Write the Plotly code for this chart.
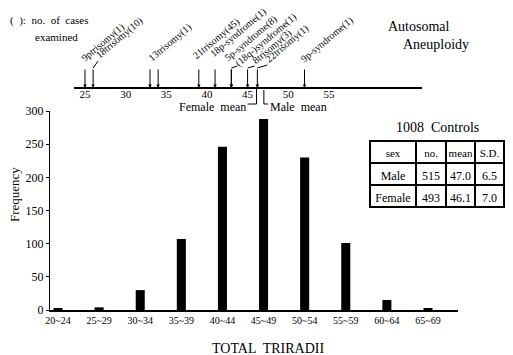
import plotly.graph_objects as go

# ---- data ----
categories = ["20~24", "25~29", "30~34", "35~39", "40~44", "45~49", "50~54", "55~59", "60~64", "65~69"]
frequency = [2, 4, 30, 107, 246, 288, 230, 101, 15, 2]

syndrome_labels = ["9ptrisomy(1)", "18trisomy(10)", "13trisomy(1)", "", "21trisomy(45)",
                   "18p-syndrome(1)", "5p-syndrome(8)", "(18q-)syndrome(1)", "8trisomy(3)",
                   "22trisomy(1)", "9p-syndrome(1)"]
syndrome_pos = [25, 26, 33, 34, 39, 41, 43, 43, 45, 46.2, 52]
top_ticks = [25, 30, 35, 40, 45, 50, 55]

table_sex = ["Male", "Female"]
table_no = [515, 493]
table_mean = [47.0, 46.1]
table_sd = [6.5, 7.0]

# page body has an 8px margin: reference pixel coords are shifted by it
OFF = 8
W, H = 513 - OFF, 355 - OFF
SERIF = "Liberation Serif, Times New Roman, serif"

def px(x):
    return (x - OFF) / W

def py(y):
    return (H - (y - OFF)) / H

fig = go.Figure()

fig.add_trace(go.Bar(x=categories, y=frequency, marker=dict(color="black", line=dict(width=0)),
                     width=0.22, xaxis="x", yaxis="y", showlegend=False))

fig.add_trace(go.Scatter(x=[top_ticks[0]], y=[0], mode="markers", marker=dict(opacity=0),
                         xaxis="x2", yaxis="y2", showlegend=False, hoverinfo="skip"))

fig.add_trace(go.Table(
    domain=dict(x=[px(370), px(504)], y=[py(209), py(141)]),
    columnwidth=[46, 30, 29, 29],
    header=dict(values=["sex", "no.", "mean", "S.D."], height=22,
                line=dict(color="black", width=1.2), fill=dict(color="white"),
                font=dict(family=SERIF, size=11, color="black"), align="center"),
    cells=dict(values=[table_sex, table_no, [f"{v:.1f}" for v in table_mean], [f"{v:.1f}" for v in table_sd]],
               height=22, line=dict(color="black", width=1.2), fill=dict(color="white"),
               font=dict(family=SERIF, size=12, color="black"), align="center"),
))

annotations = []
shapes = []

# pixel offsets of each label's start from its arrow top (styling only)
label_dx = [-2, 5, 0, 0, -4, -3, -5, 6, 7, 10, -2]
label_dy = [0, 3, 0, 0, 2, 4, 0, -5, -3, -1, -1]
ARROW_TOP = 20
for lab, pos, dx, dy in zip(syndrome_labels, syndrome_pos, label_dx, label_dy):
    annotations.append(dict(x=pos, y=0, xref="x2", yref="y2", ax=0, ay=-ARROW_TOP, text="",
                            showarrow=True, arrowhead=2, arrowsize=0.7, arrowwidth=1, arrowcolor="black"))
    if lab:
        annotations.append(dict(x=pos, y=ARROW_TOP + 1, xref="x2", yref="y2", text=lab, showarrow=False,
                                textangle=-40, xanchor="left", yanchor="bottom", xshift=dx - 7, yshift=dy,
                                font=dict(family=SERIF, size=10, color="black")))
        if dx >= 4:
            shapes.append(dict(type="line", xref="x2", yref="y2", xsizemode="pixel", ysizemode="pixel",
                               xanchor=pos, yanchor=ARROW_TOP, x0=0, x1=dx, y0=0, y1=max(dy + 4, 2),
                               line=dict(color="black", width=1)))

# mean brackets
female_mean, male_mean = table_mean[1], table_mean[0]
BR = -16
shapes.append(dict(type="line", xref="x2", yref="y2", x0=female_mean, x1=female_mean, y0=0, y1=BR,
                   line=dict(color="black", width=1)))
shapes.append(dict(type="line", xref="x2", yref="y2", x0=female_mean, x1=female_mean - 1.1, y0=BR, y1=BR,
                   line=dict(color="black", width=1)))
shapes.append(dict(type="line", xref="x2", yref="y2", x0=male_mean, x1=male_mean, y0=-2, y1=BR,
                   line=dict(color="black", width=1)))
shapes.append(dict(type="line", xref="x2", yref="y2", x0=male_mean, x1=male_mean + 0.5, y0=BR, y1=BR,
                   line=dict(color="black", width=1)))
annotations.append(dict(x=female_mean - 1.1, y=BR - 3, xref="x2", yref="y2", text="Female  mean", showarrow=False,
                        xanchor="right", yanchor="middle", font=dict(family=SERIF, size=12, color="black")))
annotations.append(dict(x=male_mean + 0.5, y=BR - 3, xref="x2", yref="y2", text="Male  mean", showarrow=False,
                        xanchor="left", yanchor="middle", font=dict(family=SERIF, size=12, color="black")))

annotations += [
    dict(x=px(8), y=py(20), xref="paper", yref="paper", text="(  ):  no.  of  cases", showarrow=False,
         xanchor="left", yanchor="middle", font=dict(family=SERIF, size=11, color="black")),
    dict(x=px(33), y=py(37), xref="paper", yref="paper", text="examined", showarrow=False,
         xanchor="left", yanchor="middle", font=dict(family=SERIF, size=11, color="black")),
    dict(x=px(386), y=py(27), xref="paper", yref="paper", text="Autosomal", showarrow=False,
         xanchor="left", yanchor="middle", font=dict(family=SERIF, size=14, color="black")),
    dict(x=px(401), y=py(45), xref="paper", yref="paper", text="Aneuploidy", showarrow=False,
         xanchor="left", yanchor="middle", font=dict(family=SERIF, size=14, color="black")),
    dict(x=px(437), y=py(127), xref="paper", yref="paper", text="1008  Controls", showarrow=False,
         xanchor="center", yanchor="middle", font=dict(family=SERIF, size=14, color="black")),
    dict(x=px(14), y=py(195), xref="paper", yref="paper", text="Frequency", showarrow=False, textangle=-90,
         xanchor="center", yanchor="middle", font=dict(family=SERIF, size=13, color="black")),
    dict(x=px(268), y=py(348), xref="paper", yref="paper", text="TOTAL  TRIRADII", showarrow=False,
         xanchor="center", yanchor="middle", font=dict(family=SERIF, size=14, color="black")),
]

fig.update_layout(
    width=W, height=H, margin=dict(l=0, r=0, t=0, b=0),
    paper_bgcolor="white", plot_bgcolor="white",
    xaxis=dict(domain=[px(50), px(458)], range=[-0.195, 9.73], showline=True, linecolor="black", linewidth=1.5,
               ticks="", showgrid=False, zeroline=False, automargin=False,
               tickfont=dict(family=SERIF, size=10, color="black")),
    yaxis=dict(domain=[py(310), py(111)], range=[0, 300], tickvals=[0, 50, 100, 150, 200, 250, 300],
               showline=True, linecolor="black", linewidth=1.2, ticks="outside", ticklen=3, tickcolor="black",
               showgrid=False, zeroline=False, automargin=False,
               tickfont=dict(family=SERIF, size=12, color="black")),
    xaxis2=dict(domain=[px(74), px(422)], range=[23.65, 66.45], anchor="free", position=py(88),
                showline=True, linecolor="black", linewidth=1.5, ticks="", tickvals=top_ticks,
                showgrid=False, zeroline=False, automargin=False, ticklabelstandoff=-4,
                tickfont=dict(family=SERIF, size=11, color="black")),
    yaxis2=dict(domain=[py(112), 1.0], range=[-24, 80], visible=False, anchor="x2", fixedrange=True),
    annotations=annotations, shapes=shapes,
)

fig.write_html("out.html")
